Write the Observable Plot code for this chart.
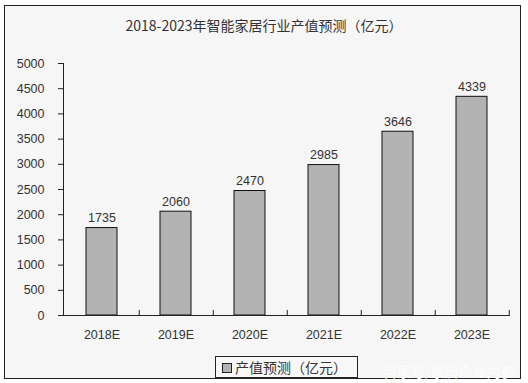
<!DOCTYPE html>
<html><head><meta charset="utf-8">
<script src="https://cdn.jsdelivr.net/npm/d3@7"></script>
<script src="https://cdn.jsdelivr.net/npm/@observablehq/plot@0.6"></script>
<style>
body{margin:0;background:#fff;width:528px;height:383px;overflow:hidden;font-family:"Liberation Sans","Noto Sans CJK SC",sans-serif;}
#frame{position:absolute;left:4px;top:5px;width:517px;height:374px;border:1px solid #222;background:#f6f6f6;box-sizing:border-box;}
#title{position:absolute;left:0;top:15px;width:528px;text-align:center;font-size:14px;color:#333;font-family:"Noto Sans CJK SC",sans-serif;}
#chart{position:absolute;left:0;top:40px;}
#legend{position:absolute;left:215px;top:356px;width:143px;height:22px;border:1px solid #222;box-sizing:border-box;background:#f8f8f8;font-family:"Noto Sans CJK SC",sans-serif;font-size:14px;color:#333;line-height:20px;}
#legend .sw{position:absolute;left:6px;top:6px;width:8px;height:8px;background:#b3b3b3;border:1px solid #222;}
#legend .lb{position:absolute;left:19px;top:0;}
#wm{position:absolute;left:383px;top:361px;font-family:"Noto Sans CJK SC",sans-serif;font-size:14px;color:#fdfdfd;}
</style></head>
<body>
<div id="frame"></div>
<div id="title"></div>
<div id="chart"></div>
<div id="legend"><span class="sw"></span><span class="lb"></span></div>
<div id="wm">百家号/家居企业内参</div>
<script>
const titleText = "2018-2023年智能家居行业产值预测（亿元）";
const seriesName = "产值预测（亿元）";
const categories = ["2018E","2019E","2020E","2021E","2022E","2023E"];
const values = [1735, 2060, 2470, 2985, 3646, 4339];
const yTicks = [0,500,1000,1500,2000,2500,3000,3500,4000,4500,5000];

document.getElementById("title").textContent = titleText;
document.querySelector("#legend .lb").textContent = seriesName;

const data = categories.map((c,i)=>({cat:c, v:values[i]}));
const W = 528, mL = 63, mR = 18;
const step = (W - mL - mR) / categories.length;

const chart = Plot.plot({
  width: W, height: 310,
  marginLeft: mL, marginRight: mR, marginTop: 23, marginBottom: 35,
  style: {background: "transparent", fontFamily: "Liberation Sans, sans-serif", fontSize: "12.5px", color: "#333"},
  x: {domain: categories, paddingInner: 0.58, paddingOuter: 0.29, label: null},
  y: {domain: [0,5000], label: null},
  marks: [
    Plot.frame({anchor: "left", stroke: "#222"}),
    Plot.barY(data, {x: "cat", y: "v", fill: "#b3b3b3", stroke: "#111", strokeWidth: 1}),
    Plot.ruleY([0], {stroke: "#222"}),
    Plot.ruleX(categories, {x: d=>d, dx: step/2, y1: 0, y2: 100, stroke: "#222"}),
    Plot.text(data, {x: "cat", y: "v", text: d=>String(d.v), lineAnchor: "bottom", dy: -6, fill: "#333", fontSize: 12.5}),
    Plot.axisY({ticks: yTicks, tickSize: 5, tickPadding: 14, tickFormat: d=>String(d), stroke: "#222", fill: "#333"}),
    Plot.axisX({tickSize: 0, tickPadding: 15, fill: "#333"})
  ]
});
document.getElementById("chart").appendChild(chart);
</script>
</body></html>
